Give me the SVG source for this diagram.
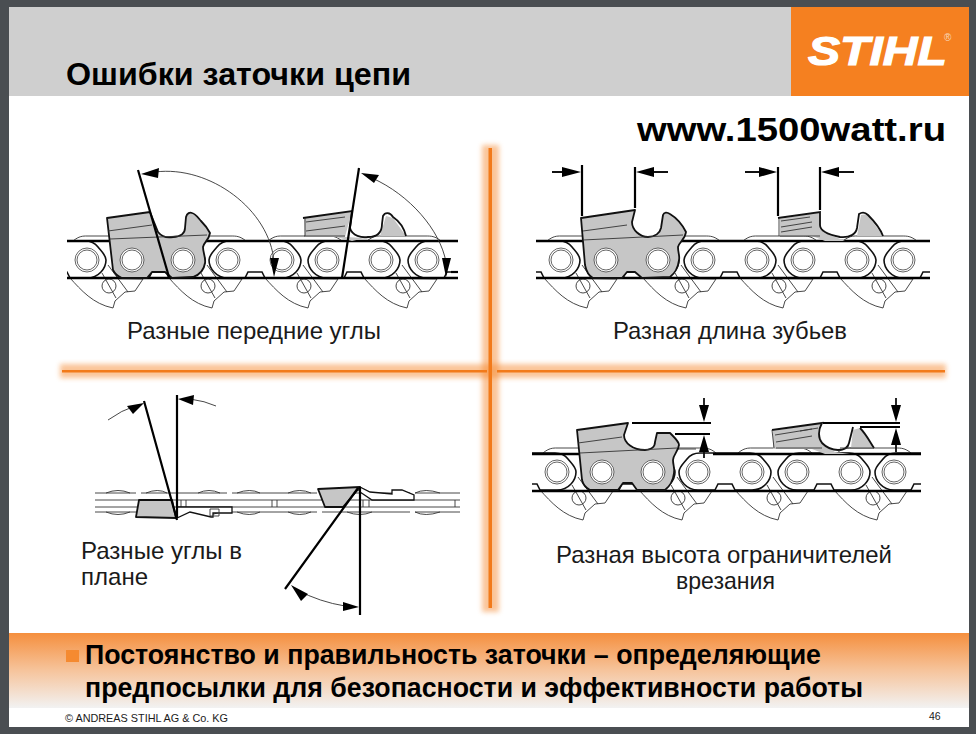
<svg xmlns="http://www.w3.org/2000/svg" width="976" height="734" viewBox="0 0 976 734">
<style>
text{font-family:"Liberation Sans",Arial,sans-serif;fill:#1a1a1a}
.lb{font-size:24px}
.bt{font-size:27.5px;font-weight:bold;fill:#000}
.th{fill:none;stroke:#333;stroke-width:.9}
.md{fill:none;stroke:#111;stroke-width:1.8}
.bd{fill:none;stroke:#000;stroke-width:2.2}
.rail{fill:none;stroke:#000;stroke-width:2.4}
.gr{fill:#c6c6c6;stroke:none}
.cut{fill:#c6c6c6;stroke:#111;stroke-width:1.8;stroke-linejoin:round}
.ah{fill:#000}
.lk{fill:#fff;stroke:#111;stroke-width:1.6}
</style>
<defs>
<linearGradient id="barG" x1="0" y1="0" x2="0" y2="1"><stop offset="0" stop-color="#f58f3e"/><stop offset=".5" stop-color="#f6c49c"/><stop offset="1" stop-color="#f2f2f2"/></linearGradient>
<filter id="glow" x="-30%" y="-30%" width="160%" height="160%"><feGaussianBlur stdDeviation="2.5"/></filter>
<g id="riv"><circle r="12" fill="#fff" stroke="#555" stroke-width=".9"/><circle r="10" fill="#fff" stroke="#555" stroke-width=".9"/></g>
<g id="unit">
<path class="th" style="fill:#fff" d="M37,18C48,30 60,44 80,48L82,41L92,32L102,31L110,19Z"/>
<circle class="th" cx="76" cy="26" r="7"/>
<path class="th" d="M69,13L83,38M75,5L95,32"/>
<path class="th" d="M40,-19C46,-24 50,-24 54,-24H99C104,-24 108,-24 114,-19"/>
<path class="lk" d="M-19,0C-19,-5 -14,-9 -11,-13C-8,-17 -4,-19 2,-19H52C58,-19 62,-17 65,-13C68,-9 73,-5 73,0C73,8 66,18 54,18H0C-12,18 -19,8 -19,0Z"/>
<path class="lk" d="M17,18L20,12H34L37,18"/>
<use href="#riv"/><use href="#riv" x="54"/>
</g>
<clipPath id="c1"><rect x="67" y="200" width="391" height="115"/></clipPath>
<clipPath id="c2"><rect x="536" y="200" width="394" height="115"/></clipPath>
<clipPath id="c4"><rect x="532" y="415" width="389" height="115"/></clipPath>
</defs>
<rect width="976" height="734" fill="#4a4e52"/>
<rect x="9" y="7" width="960" height="720" fill="#fff"/>
<g id="header">
<rect x="9" y="7" width="782" height="89" fill="#cfcfcf"/>
<rect x="791" y="7" width="178" height="89" fill="#f58020"/>
<text x="66" y="85" font-size="31" font-weight="bold" style="fill:#000" textLength="345" lengthAdjust="spacingAndGlyphs">Ошибки заточки цепи</text>
<text x="808" y="65" font-size="41" font-weight="bold" font-style="italic" style="fill:#fff;stroke:#fff;stroke-width:1.2" textLength="139" lengthAdjust="spacingAndGlyphs">STIHL</text>
<text x="944" y="41" font-size="10" style="fill:#f8d8b8">®</text>
</g>
<text x="637" y="141" font-size="33" font-weight="bold" style="fill:#000" textLength="309" lengthAdjust="spacingAndGlyphs">www.1500watt.ru</text>

<g id="cross">
<rect x="482" y="145" width="17" height="467" fill="#f58a30" filter="url(#glow)" opacity=".5"/>
<rect x="60" y="364" width="886" height="14" fill="#f58a30" filter="url(#glow)" opacity=".5"/>
<rect x="488.5" y="148" width="3.5" height="460" fill="#f27a1a"/>
<rect x="62" y="370" width="425" height="2.5" fill="#f27a1a"/>
<rect x="497" y="370" width="448" height="2.5" fill="#f27a1a"/>
</g>

<g id="panel-front-angles">
<g clip-path="url(#c1)">
<use href="#unit" x="33" y="260"/><use href="#unit" x="132" y="260"/><use href="#unit" x="228" y="260"/><use href="#unit" x="327" y="260"/><use href="#unit" x="427" y="260"/>
</g>
<path class="rail" d="M67,241H458M67,278H458"/>
<path class="cut" d="M107,218L150,212L158,232C162,237 168,238 173,237C181,237 185,233 185,228L186,217C187,213 190,212 192,213C196,214 199,219 201,221C205,225 208,229 210,233C209,240 204,242 203,247C203,253 206,258 205,263C204,270 199,275 193,277L172,278L165,272H152L147,278H122C116,276 114,272 113,270Z"/>
<path class="th" d="M108,231L152,225M110,239L207,235"/>
<path class="gr" d="M304,218L352,211L345,237L365,238L352,241L336,237H305Z"/>
<path class="gr" d="M386,216L393,218L406,236H380Z"/>
<path class="md" d="M303,218L352,211L350,228C352,236 362,238 368,237C378,237 382,232 382,224L383,216C385,212 390,212 393,217C399,221 404,228 406,236"/>
<path class="th" d="M305,236V218M306,222L345,217M306,231L345,226M304,236H345"/>
<use href="#riv" x="132" y="260"/><use href="#riv" x="183" y="260"/>
<path class="bd" d="M138,170L169,277"/>
<path class="bd" d="M359,168L342,278"/>
<path class="th" d="M155,172C210,165 270,210 274,262"/>
<path class="ah" d="M141,174L159,168L158,178ZM274,277L270,258L279,258Z"/>
<path class="th" d="M372,178C410,195 440,230 446,262"/>
<path class="ah" d="M361,173L379,175L374,183ZM446,277L442,258L451,258Z"/>
<path class="bd" d="M451,272H458"/>
</g>
<text class="lb" x="127" y="339" textLength="254" lengthAdjust="spacingAndGlyphs">Разные передние углы</text>

<g id="panel-tooth-length">
<g clip-path="url(#c2)">
<use href="#unit" x="507" y="260"/><use href="#unit" x="606" y="260"/><use href="#unit" x="703" y="260"/><use href="#unit" x="803" y="260"/><use href="#unit" x="903" y="260"/>
</g>
<path class="rail" d="M536,241H930M536,278H930"/>
<path class="cut" d="M581,218L635,210L632,222C632,230 640,237 648,237C655,237 660,233 661,228L663,215C664,212 667,212 670,214C675,217 682,224 686,232C685,240 679,242 678,247C678,253 680,256 679,260C678,268 674,274 670,277L642,278L635,272H627L622,278H593C589,276 586,270 585,265Z"/>
<path class="th" d="M583,231L627,225M583,240L683,235"/>
<path class="gr" d="M780,219L820,212L821,228L833,236L845,241H825L812,236H780Z"/>
<path class="gr" d="M861,215L867,214L883,236H857Z"/>
<path class="md" d="M778,218L820,212L820,225C820,232 830,235 840,237C850,238 856,234 857,228L859,214C862,212 865,212 868,215C874,221 880,228 883,236"/>
<path class="th" d="M779,236V218M781,221L810,217M781,227L812,222M781,232L812,227M780,236H820"/>
<use href="#riv" x="606" y="260"/><use href="#riv" x="658" y="260"/>
<path class="bd" d="M582,165V216M635,167V208M778,167V216M820,167V210"/>
<path class="md" d="M552,172H565M668,172H650M745,172H762M854,172H836"/>
<path class="ah" d="M581,172L562,167V177ZM636,172L654,167V177ZM777,172L759,167V177ZM821,172L839,167V177Z"/>
</g>
<text class="lb" x="613" y="339" textLength="234" lengthAdjust="spacingAndGlyphs">Разная длина зубьев</text>

<g id="panel-plan-angles">
<path class="th" d="M95,493H136M141,493H227M232,493H317M322,493H410M415,493H460M95,500H460M95,507H460M95,512H136M141,512H227M232,512H317M322,512H410M415,512H460"/>
<path class="th" d="M106,493Q118,488 130,493M146,493Q158,488 167,493M198,493Q209,488 220,493M237,493Q250,488 260,493M288,493Q300,488 311,493M347,493Q360,488 372,493M415,493Q425,488 440,493M106,512Q118,517 130,512M146,512Q158,517 167,512M198,512Q209,517 220,512M237,512Q250,517 260,512M288,512Q300,517 311,512M347,512Q360,517 372,512M415,512Q425,517 440,512"/>
<path class="th" d="M181,500V507M186,500V507M272,500V507M277,500V507M363,500V507M369,500V507M455,500V507"/>
<path d="M177,507H232V513H213V517H211L190,512L177,518Z" fill="#fff" stroke="#111" stroke-width="1.3"/>
<path class="th" d="M210,509H219V516H210Z"/>
<path class="cut" d="M139,500H172L176,518L136,517Z"/>
<path class="bd" d="M144,401L177,520M177,395V518"/>
<path class="th" d="M108,420Q122,410 135,406M216,406Q205,401 190,399"/>
<path class="ah" d="M178,399L194,395L193,405Z"/>
<path class="ah" d="M144,403L127,406L133,414Z"/>
<path d="M360,487L370,492L392,494V490H402L414,495V500H372L360,492Z" fill="#fff" stroke="#111" stroke-width="1.3"/>
<path class="cut" d="M318,489L360,487L343,507H325Z"/>
<path class="bd" d="M360,487V615M358,488L285,589"/>
<path class="th" d="M297,590Q320,602 345,606"/>
<path class="ah" d="M291,585L308,594L301,601ZM359,607L343,602V611Z"/>
</g>
<text class="lb" x="81" y="559" textLength="161" lengthAdjust="spacingAndGlyphs">Разные углы в</text>
<text class="lb" x="81" y="585" textLength="67" lengthAdjust="spacingAndGlyphs">плане</text>

<g id="panel-depth-gauge">
<g clip-path="url(#c4)">
<use href="#unit" x="503" y="472"/><use href="#unit" x="602" y="472"/><use href="#unit" x="698" y="472"/><use href="#unit" x="797" y="472"/><use href="#unit" x="894" y="472"/>
</g>
<path class="rail" d="M532,454H580M713,454H921M532,491H921"/>
<path class="th" d="M653,449H696"/>
<path class="cut" d="M577,430L628,423L624,435C624,443 633,450 645,450C651,450 655,447 655,442L657,433H670L672,435C675,438 679,442 679,445C678,452 673,455 673,460C673,465 675,469 674,473C673,481 669,487 665,490H637L632,483H623L618,490H590C586,488 583,484 582,480Z"/>
<path class="th" d="M578,443L622,437M580,453L677,448"/>
<path class="gr" d="M773,431L822,423L819,435L825,446L835,452L850,454H825L812,449H773Z"/>
<path class="gr" d="M853,430L860,428L874,448H851Z"/>
<path class="md" d="M772,430L822,423C818,430 818,438 822,443C828,449 834,450 838,450C845,450 848,448 849,443L853,427M860,428C866,434 870,442 874,448"/>
<path class="th" d="M774,448L772,430M775,435L812,429M776,442L812,436M776,448L822,448M800,431L818,428"/>
<path class="th" d="M840,448H874"/>
<use href="#riv" x="602" y="472"/><use href="#riv" x="653" y="472"/>
<path class="bd" d="M632,423H711M675,434H710M823,423H900M860,427H900"/>
<path class="md" d="M704,398V406M704,445V458M896,398V406M896,445V452"/>
<path class="ah" d="M704,422L699,405H709ZM704,435L699,452H709ZM896,422L891,405H901ZM896,428L891,445H901Z"/>
</g>
<text class="lb" x="556" y="563" textLength="336" lengthAdjust="spacingAndGlyphs">Разная высота ограничителей</text>
<text class="lb" x="676" y="589" textLength="99" lengthAdjust="spacingAndGlyphs">врезания</text>

<g id="footer">
<rect x="9" y="633" width="960" height="75" fill="url(#barG)"/>
<rect x="66" y="650" width="13" height="12" fill="#f58a30"/>
<text class="bt" x="85" y="664" textLength="736" lengthAdjust="spacingAndGlyphs">Постоянство и правильность заточки – определяющие</text>
<text class="bt" x="85" y="697" textLength="778" lengthAdjust="spacingAndGlyphs">предпосылки для безопасности и эффективности работы</text>
<text x="65" y="722" font-size="10.5" textLength="163" lengthAdjust="spacingAndGlyphs">© ANDREAS STIHL AG &amp; Co. KG</text>
<text x="929" y="720" font-size="10.5">46</text>
</g>
</svg>
